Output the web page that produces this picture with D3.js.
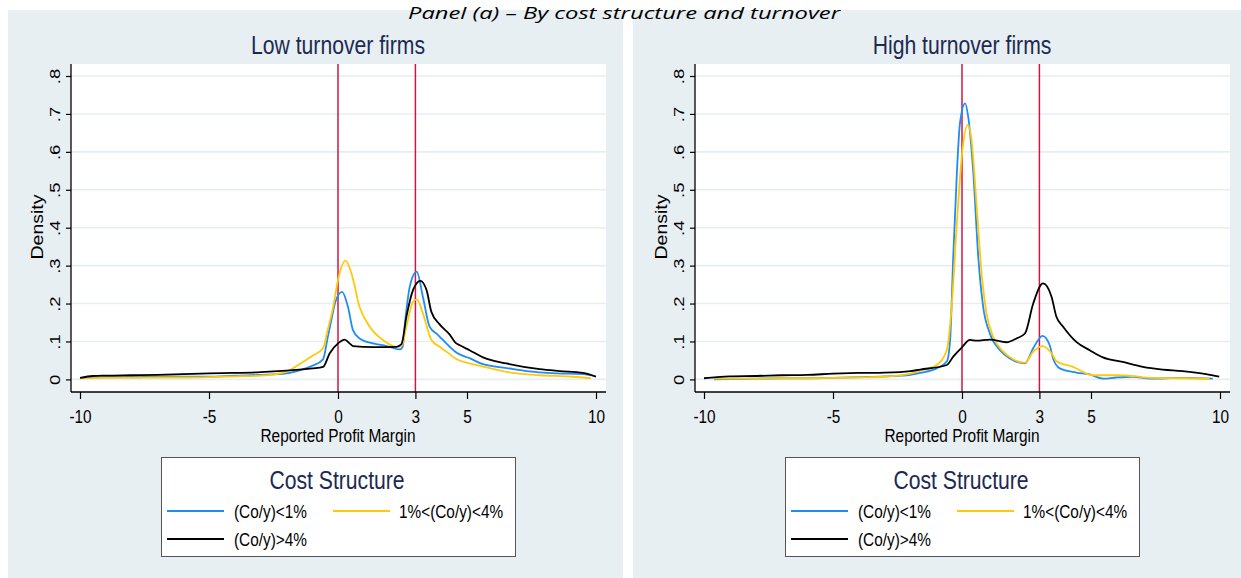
<!DOCTYPE html>
<html lang="en">
  <head>
    <meta charset="utf-8"/>
    <title>Panel (a) - By cost structure and turnover</title>
    <script src="https://cdn.jsdelivr.net/npm/d3@7"></script>
    <style>
      body { margin: 0; background: #fff; }
      svg { display: block; }
      text { font-family: "Liberation Sans", Arial, sans-serif; }
    </style>
  </head>
  <body>
    <div id="chart"></div>
    <script>

      // tick values and labels
      var xTicks = [-10, -5, 0, 3, 5, 10];
      var yTicks = [0, 0.1, 0.2, 0.3, 0.4, 0.5, 0.6, 0.7, 0.8];
      var yTickLabels = ["0", ".1", ".2", ".3", ".4", ".5", ".6", ".7", ".8"];
      var refLines = [0, 3];

      var legendLabels = ["(Co/y)<1%", "1%<(Co/y)<4%", "(Co/y)>4%"];
      var seriesColours = ["#1e8cf5", "#ffc90a", "#000000"];

      // low turnover firms, densities [margin, density]
      var lowBlue = [[-10,0.004],[-9,0.006],[-8,0.006],[-7,0.007],[-6,0.007],[-5,0.007],[-4,0.010],[-3,0.012],[-2,0.016],[-1.5,0.024],[-1,0.036],[-0.58,0.053],[-0.4,0.11],[-0.26,0.156],[-0.1,0.205],[0.16,0.231],[0.39,0.19],[0.58,0.13],[0.84,0.108],[1.36,0.095],[1.88,0.088],[2.39,0.079],[2.5,0.085],[2.62,0.165],[2.78,0.244],[3.05,0.284],[3.29,0.218],[3.55,0.139],[3.88,0.117],[4.33,0.086],[4.6,0.07],[5.1,0.056],[5.62,0.04],[6.53,0.03],[7.3,0.022],[8.47,0.016],[9.5,0.014],[10,0.008]];
      var lowYellow = [[-10,0.003],[-9,0.004],[-8,0.004],[-7,0.005],[-6,0.005],[-5,0.006],[-4,0.008],[-3,0.010],[-2,0.02],[-1.5,0.04],[-1,0.062],[-0.58,0.082],[-0.4,0.13],[-0.19,0.19],[0,0.262],[0.29,0.313],[0.52,0.28],[0.84,0.19],[1.23,0.139],[1.74,0.104],[2.26,0.086],[2.46,0.087],[2.65,0.139],[2.91,0.205],[3.06,0.211],[3.29,0.174],[3.62,0.104],[3.94,0.086],[4.3,0.068],[4.6,0.053],[5.1,0.042],[5.62,0.034],[6.78,0.017],[7.82,0.011],[9.11,0.007],[9.8,0.003]];
      var lowBlack = [[-10,0.004],[-9.5,0.009],[-9,0.010],[-8,0.011],[-7,0.012],[-6,0.014],[-5,0.016],[-4,0.017],[-3,0.019],[-2,0.023],[-1,0.029],[-0.58,0.033],[-0.32,0.069],[0,0.095],[0.26,0.105],[0.45,0.095],[0.58,0.088],[1.36,0.085],[2.26,0.086],[2.46,0.093],[2.65,0.165],[2.91,0.236],[3.19,0.26],[3.43,0.236],[3.62,0.178],[3.94,0.145],[4.33,0.118],[4.55,0.097],[4.72,0.09],[5.1,0.077],[5.62,0.058],[6.53,0.042],[7.82,0.027],[8.59,0.022],[9.5,0.017],[10,0.007]];

      // high turnover firms
      var highBlue = [[-9.6,0.0],[-9,0.001],[-8,0.002],[-7,0.003],[-6,0.003],[-5,0.004],[-4,0.006],[-3,0.008],[-2,0.012],[-1.62,0.017],[-0.98,0.029],[-0.59,0.047],[-0.46,0.104],[-0.34,0.323],[-0.2,0.543],[-0.08,0.675],[0.12,0.728],[0.24,0.693],[0.44,0.543],[0.63,0.323],[0.82,0.192],[1.08,0.121],[1.47,0.077],[1.86,0.055],[2.44,0.042],[2.76,0.082],[3.12,0.115],[3.4,0.09],[3.53,0.055],[3.79,0.029],[4.43,0.018],[4.95,0.013],[5.46,0.002],[5.98,0.005],[6.62,0.007],[7.27,0.002],[8.55,0.004],[9.72,0.002]];
      var highYellow = [[-9.6,0.002],[-9,0.002],[-8,0.002],[-7,0.003],[-6,0.003],[-5,0.004],[-4,0.005],[-3,0.007],[-2,0.015],[-1.62,0.023],[-0.98,0.038],[-0.59,0.077],[-0.4,0.192],[-0.2,0.411],[-0.01,0.587],[0.22,0.671],[0.37,0.631],[0.57,0.455],[0.76,0.28],[0.95,0.174],[1.21,0.112],[1.6,0.073],[1.98,0.053],[2.44,0.044],[2.76,0.073],[3.12,0.088],[3.47,0.069],[3.66,0.048],[4.3,0.033],[5.08,0.011],[5.98,0.011],[6.75,0.008],[7.27,0.004],[8.55,0.003],[9.59,0.001]];
      var highBlack = [[-10,0.003],[-9.5,0.006],[-9,0.008],[-8,0.009],[-7,0.011],[-6,0.012],[-5,0.015],[-4,0.017],[-3,0.018],[-2,0.022],[-1.62,0.026],[-0.59,0.038],[-0.34,0.06],[-0.01,0.084],[0.31,0.104],[0.57,0.102],[1.08,0.105],[1.73,0.098],[2.11,0.108],[2.44,0.121],[2.76,0.2],[3.14,0.253],[3.47,0.218],[3.66,0.165],[3.92,0.139],[4.43,0.099],[4.95,0.077],[5.46,0.058],[6.23,0.046],[7.01,0.033],[7.78,0.026],[8.55,0.022],[9.46,0.014],[9.97,0.007]];

      var panelTitles = ["Low turnover firms", "High turnover firms"];
      var panelSeries = [[lowBlue, lowYellow, lowBlack], [highBlue, highYellow, highBlack]];

      // the original graph is squeezed horizontally, so is its text
      var SX = 0.83;
      var navy = "#1c2a52";

      var W = 1241, H = 578;
      var svg = d3.select("#chart").append("svg")
        .attr("width", W)
        .attr("height", H);

      // helper for squeezed text
      function sText(g, x, y, str, size, rotate) {
        return g.append("text")
          .attr("transform", "translate(" + x + "," + y + ") scale(" + SX + ",1)" + (rotate ? " rotate(-90)" : ""))
          .attr("text-anchor", "middle")
          .attr("font-size", size)
          .text(str);
      }

      function drawPanel(p) {
        var dx = p * 624;
        var g = svg.append("g").attr("transform", "translate(" + dx + ",0)");

        // panel background
        g.append("rect")
          .attr("x", p == 0 ? 8 : 9)
          .attr("y", 10)
          .attr("width", p == 0 ? 615 : 608)
          .attr("height", H - 10)
          .attr("fill", "#e8eff2");

        var plotL = 71, plotR = 606, plotT = 64, plotB = 392;
        g.append("rect")
          .attr("x", plotL)
          .attr("y", plotT)
          .attr("width", plotR - plotL)
          .attr("height", plotB - plotT)
          .attr("fill", "#fff");

        var x = d3.scaleLinear().domain([-10, 10]).range([80, 596]);
        var y = d3.scaleLinear().domain([0, 0.8]).range([379.4, 76]);

        // grid lines
        g.selectAll(".grid")
          .data(yTicks)
          .enter()
          .append("line")
          .attr("x1", plotL)
          .attr("x2", plotR)
          .attr("y1", function(d) { return y(d); })
          .attr("y2", function(d) { return y(d); })
          .attr("stroke", "#e6eef2")
          .attr("stroke-width", 1.6);

        // reference lines at 0 and 3
        g.selectAll(".xline")
          .data(refLines)
          .enter()
          .append("line")
          .attr("x1", function(d) { return x(d); })
          .attr("x2", function(d) { return x(d); })
          .attr("y1", plotT)
          .attr("y2", plotB)
          .attr("stroke", "#cc1744")
          .attr("stroke-width", 1.5);

        // density curves
        var line = d3.line()
          .x(function(d) { return x(d[0]); })
          .y(function(d) { return y(d[1]); })
          .curve(d3.curveMonotoneX);

        panelSeries[p].forEach(function(s, i) {
          g.append("path")
            .datum(s)
            .attr("d", line)
            .attr("fill", "none")
            .attr("stroke", seriesColours[i])
            .attr("stroke-width", 1.8)
            .attr("stroke-linejoin", "round");
        });

        // x axis
        var xAxis = g.append("g")
          .attr("transform", "translate(0," + plotB + ")")
          .call(d3.axisBottom(x).tickValues(xTicks).tickSize(7).tickPadding(11).tickFormat(function(d) { return String(d); }));
        xAxis.select(".domain").remove();
        xAxis.attr("font-family", null).attr("font-size", 18.5);
        xAxis.selectAll("text").attr("fill", "#000").attr("transform", "scale(" + SX + ",1)");
        xAxis.selectAll("line").attr("stroke", "#000").attr("stroke-width", 1.2);

        // y axis
        var yAxis = g.append("g")
          .attr("transform", "translate(" + plotL + ",0)")
          .call(d3.axisLeft(y).tickValues(yTicks).tickSize(5).tickFormat(function(d, i) { return yTickLabels[i]; }));
        yAxis.select(".domain").remove();
        yAxis.attr("font-family", null).attr("font-size", 18.5);
        yAxis.selectAll("text")
          .attr("x", null)
          .attr("dy", null)
          .attr("fill", "#000")
          .attr("text-anchor", "middle")
          .attr("transform", "translate(-11.5,0) scale(" + SX + ",1) rotate(-90)");
        yAxis.selectAll("line").attr("stroke", "#000").attr("stroke-width", 1.2);

        // axis lines
        g.append("line")
          .attr("x1", plotL).attr("x2", plotR)
          .attr("y1", plotB).attr("y2", plotB)
          .attr("stroke", "#000").attr("stroke-width", 1.3);
        g.append("line")
          .attr("x1", plotL).attr("x2", plotL)
          .attr("y1", plotT).attr("y2", plotB)
          .attr("stroke", "#000").attr("stroke-width", 1.3);

        // titles
        sText(g, 338, 54, panelTitles[p], 25.5).attr("fill", navy);
        sText(g, 338, 441.5, "Reported Profit Margin", 18.6);
        sText(g, 42.5, 227, "Density", 19.5, true);

        // legend
        var lg = g.append("g");
        lg.append("rect")
          .attr("x", 161.5)
          .attr("y", 457.5)
          .attr("width", 354)
          .attr("height", 99)
          .attr("fill", "#fff")
          .attr("stroke", "#555")
          .attr("stroke-width", 1);
        sText(lg, 337, 489, "Cost Structure", 25.5).attr("fill", navy);

        legendLabels.forEach(function(lab, i) {
          var col = i == 1 ? 1 : 0;
          var row = i == 2 ? 1 : 0;
          var ly = 511 + row * 28;
          lg.append("line")
            .attr("x1", 167 + col * 166)
            .attr("x2", 224 + col * 166)
            .attr("y1", ly)
            .attr("y2", ly)
            .attr("stroke", seriesColours[i])
            .attr("stroke-width", 2);
          lg.append("text")
            .attr("transform", "translate(" + (234 + col * 165) + "," + (ly + 7) + ") scale(" + SX + ",1)")
            .attr("font-size", 18.5)
            .text(lab);
        });
      }

      drawPanel(0);
      drawPanel(1);

      // page title above the two graphs, drawn last so it sits on top
      svg.append("text")
        .attr("x", 624)
        .attr("y", 19)
        .attr("text-anchor", "middle")
        .style("font-family", "'Open Sans', sans-serif")
        .style("font-style", "italic")
        .attr("font-size", 17)
        .attr("textLength", 432)
        .attr("lengthAdjust", "spacingAndGlyphs")
        .text("Panel (a) \u2013 By cost structure and turnover");
    </script>
  </body>
</html>
